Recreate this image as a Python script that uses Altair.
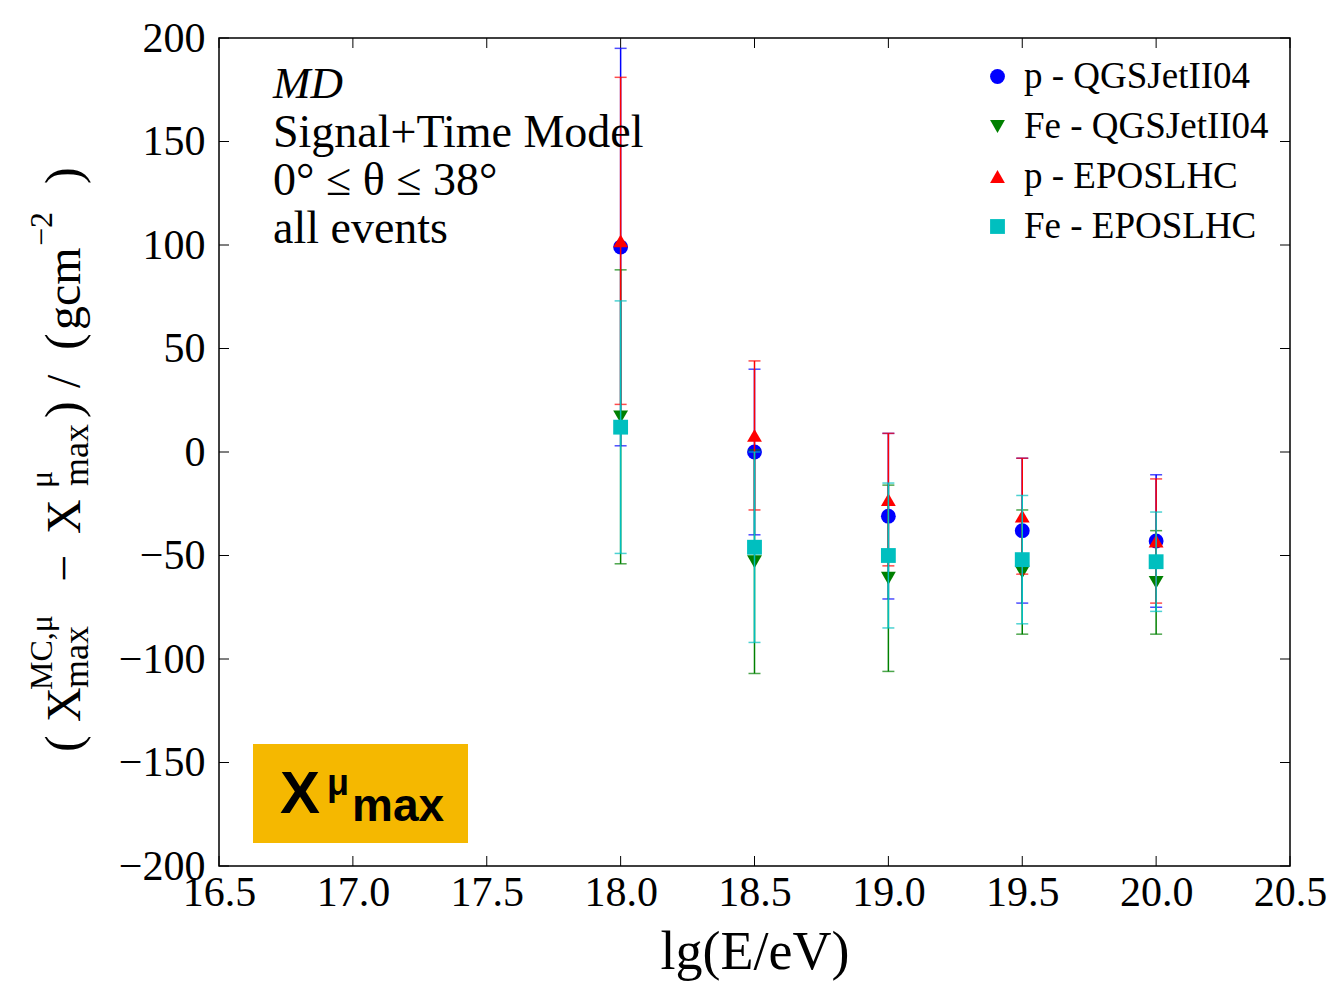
import altair as alt
import pandas as pd

# ---------------- data ----------------
energy = [18.0, 18.5, 19.0, 19.5, 20.0]
series_names = ["p - QGSJetII04", "Fe - QGSJetII04", "p - EPOSLHC", "Fe - EPOSLHC"]
p_qgs = [99, 0, -31, -38, -43]
p_qgs_err = [96, 40, 40, 35, 32]
fe_qgs = [17, -53, -61, -58, -63]
fe_qgs_err = [71, 54, 45, 30, 25]
p_epos = [102, 8, -23, -31, -43]
p_epos_err = [79, 36, 32, 28, 30]
fe_epos = [12, -46, -50, -52, -53]
fe_epos_err = [61, 46, 35, 31, 24]

colors = ["#0000ff", "#008000", "#ff0000", "#00bfbf"]
shapes = ["circle", "triangle-down", "triangle-up", "square"]
x_ticks = [16.5, 17.0, 17.5, 18.0, 18.5, 19.0, 19.5, 20.0, 20.5]
y_ticks = [-200, -150, -100, -50, 0, 50, 100, 150, 200]

# ---------------- layout ----------------
LEFT, TOP = 219, 38
W, H = 1071, 828
SERIF = "Liberation Serif"

vals = [p_qgs, fe_qgs, p_epos, fe_epos]
errs = [p_qgs_err, fe_qgs_err, p_epos_err, fe_epos_err]
rows = []
for name, v, e in zip(series_names, vals, errs):
    for xx, yy, ee in zip(energy, v, e):
        rows.append({"series": name, "x": xx, "y": yy, "err": ee})
df = pd.DataFrame(rows)

xscale = alt.Scale(domain=[16.5, 20.5], nice=False, zero=False)
yscale = alt.Scale(domain=[-200, 200], nice=False, zero=False)
xaxis = alt.Axis(values=x_ticks, format=".1f", title="lg(E/eV)", labelPadding=6,
                 titlePadding=12, labelFlush=False, labelOverlap=False)
yaxis = alt.Axis(values=y_ticks, format="d", title=None, labelPadding=14,
                 labelExpr="replace(datum.label, '-', '\u2212')", labelOverlap=False)


def X(field):
    return alt.X(field, type="quantitative", scale=xscale, axis=xaxis)


def Y(field):
    return alt.Y(field, type="quantitative", scale=yscale, axis=yaxis)


legend = alt.Legend(title=None, orient="none", legendX=760, legendY=20,
                    labelFont=SERIF, labelFontSize=37, labelColor="black",
                    labelLimit=0, symbolSize=220, symbolStrokeWidth=0,
                    rowPadding=12, labelOffset=8)

base = alt.Chart(df).transform_calculate(
    lo="datum.y - datum.err", hi="datum.y + datum.err"
)

layers = []
for i, name in enumerate(series_names):
    sub = base.transform_filter(alt.datum.series == name)
    layers.append(sub.mark_rule(color=colors[i], strokeWidth=1.5).encode(
        x=X("x"), y=Y("lo"), y2="hi:Q"))
    layers.append(sub.mark_tick(orient="horizontal", size=12, thickness=1.5,
                                color=colors[i]).encode(x=X("x"), y=Y("lo")))
    layers.append(sub.mark_tick(orient="horizontal", size=12, thickness=1.5,
                                color=colors[i]).encode(x=X("x"), y=Y("hi")))
    layers.append(sub.mark_point(filled=True, size=220, opacity=1).encode(
        x=X("x"), y=Y("y"),
        color=alt.Color("series:N", scale=alt.Scale(domain=series_names, range=colors),
                        legend=legend),
        shape=alt.Shape("series:N", scale=alt.Scale(domain=series_names, range=shapes),
                        legend=legend),
    ))

# inner ticks on all four sides
ydf = pd.DataFrame({"v": y_ticks})
xdf = pd.DataFrame({"v": x_ticks})
tick_y = alt.Chart(ydf).mark_rule(color="black", strokeWidth=1)
tick_x = alt.Chart(xdf).mark_rule(color="black", strokeWidth=1)
ticks = [
    tick_y.encode(y=Y("v"), x=alt.value(0), x2=alt.value(10)),
    tick_y.encode(y=Y("v"), x=alt.value(W - 10), x2=alt.value(W)),
    tick_x.encode(x=X("v"), y=alt.value(H - 10), y2=alt.value(H)),
    tick_x.encode(x=X("v"), y=alt.value(0), y2=alt.value(10)),
]


def label(text, sx, sy, size, font=SERIF, angle=0, align="left",
          baseline="alphabetic", style="normal", weight="normal", color="black"):
    return alt.Chart(alt.Data(values=[{"k": 0}])).mark_text(
        text=text, fontSize=size, font=font, angle=angle, align=align,
        baseline=baseline, fontStyle=style, fontWeight=weight, color=color
    ).encode(x=alt.value(sx - LEFT), y=alt.value(sy - TOP))


annot = [
    label("MD", 273, 98, 45, style="italic"),
    label("Signal+Time Model", 273, 147, 46),
    label("0° ≤ θ ≤ 38°", 273, 195, 46),
    label("all events", 273, 243, 46),
]

# orange badge
badge = [
    alt.Chart(alt.Data(values=[{"k": 0}])).mark_rect(color="#f5b800").encode(
        x=alt.value(253 - LEFT), x2=alt.value(468 - LEFT),
        y=alt.value(744 - TOP), y2=alt.value(843 - TOP)),
    label("X", 280, 813, 60, font="Liberation Sans", weight="bold"),
    label("μ", 327, 795, 36, font="Liberation Sans", weight="bold"),
    label("max", 352, 821, 46, font="Liberation Sans", weight="bold"),
]

# y-axis title built from pieces (rotated, reading bottom to top)
R = 270
ytitle = [
    label("(", 80, 752, 50, angle=R),
    label("X", 80, 722, 48, angle=R),
    label("max", 88, 688, 36, angle=R),
    label("MC,μ", 52, 690, 32, angle=R),
    label("−", 80, 582, 48, angle=R),
    label("X", 80, 534, 48, angle=R),
    label("max", 88, 486, 36, angle=R),
    label("μ", 52, 488, 32, angle=R),
    label(")", 80, 418, 50, angle=R),
    label("/", 80, 388, 48, angle=R),
    label("(", 80, 350, 50, angle=R),
    label("gcm", 80, 330, 48, angle=R),
    label("−2", 52, 246, 32, angle=R),
    label(")", 80, 184, 50, angle=R),
]

chart = alt.layer(*ticks, *layers, *annot, *badge, *ytitle).properties(
    width=W, height=H,
    autosize=alt.AutoSizeParams(type="none"),
    padding={"left": LEFT, "top": TOP, "right": 1331 - LEFT - W, "bottom": 988 - TOP - H},
    background="white",
).configure_view(
    stroke="black", strokeWidth=1.5
).configure_axis(
    domain=False, ticks=False, grid=False,
    labelFont=SERIF, labelFontSize=42, labelColor="black",
    titleFont=SERIF, titleFontSize=54, titleFontWeight="normal", titleColor="black",
)

chart.save("out.html", embed_options={"renderer": "svg", "actions": False})
